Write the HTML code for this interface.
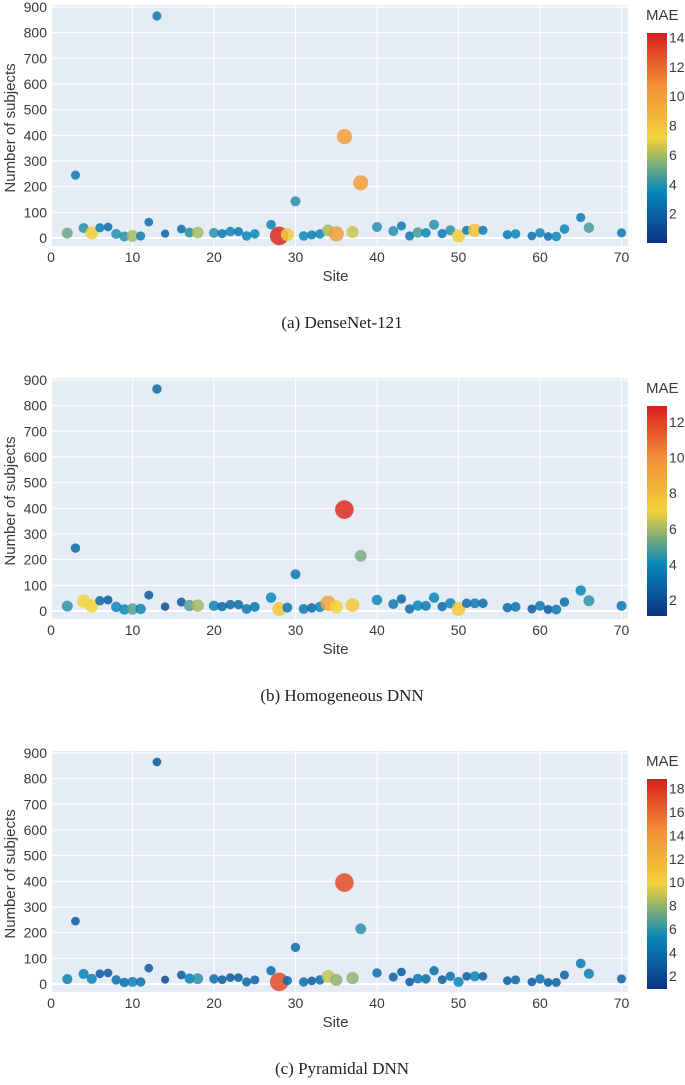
<!DOCTYPE html>
<html><head><meta charset="utf-8"><style>
body{margin:0;background:#fff;width:685px;height:1085px;overflow:hidden}
svg{display:block}
.t{font-family:"Liberation Sans",sans-serif;font-size:14px;fill:#3a3a3a}
.cap{font-family:"Liberation Serif",serif;font-size:17px;fill:#222}
</style></head><body>
<svg id="s" width="685" height="1085">
<defs><linearGradient id="cg" x1="0" y1="1" x2="0" y2="0">
<stop offset="0" stop-color="#0c3383"/><stop offset="0.25" stop-color="#0a88ba"/><stop offset="0.5" stop-color="#f2d338"/><stop offset="0.75" stop-color="#f28f38"/><stop offset="1" stop-color="#d91e1e"/></linearGradient></defs>
</svg>
<script>
const sites=[2,3,4,5,6,7,8,9,10,11,12,13,14,16,17,18,20,21,22,23,24,25,27,28,29,30,31,32,33,34,35,36,37,38,40,42,43,44,45,46,47,48,49,50,51,52,53,56,57,59,60,61,62,63,65,66,70];
const subjects=[19,245,39,20,40,43,16,6,8,8,62,865,17,35,21,21,20,17,25,25,8,16,52,8,13,143,8,12,16,30,16,395,23,215,43,27,47,8,21,20,52,17,30,8,30,30,30,13,16,8,20,6,6,35,80,40,20];
const maeA=[5,3,4,7.5,3,2.5,4,4,6,3,2.5,3,2,2.5,4,6,4,3,3.5,3,3.5,3.5,3.5,14,7.5,4,3.5,3,3.5,6,10,10,6.5,10,4,4,3,3,4.5,3.5,4,3,4,7.5,3,8,3,3,3.5,2.5,3.5,2.5,3.5,3.5,3,4.5,3];
const maeB=[4.5,3,7,7,3,2.5,4,4,5,4,2.5,3,2,2.5,5,6,4,3,3,3,3.5,3.5,4,7.5,3.5,3.5,3.5,3,4,9,7,12.5,7.5,5.5,4,3.5,3,3,4,3.5,4,3,4,7.5,3,3.5,3,3,3.5,2.5,3.5,2.5,3.5,3,4,4.5,3.5];
const maeC=[5,3,5,5,3,3,4,4,5,4,3,3,2,3,5,6,4,3,3,3,3.5,3.5,4,17,4,4,4,3,4,9,8,17,8,6,4,3.5,3,3,4.5,4,4,3,4,5,3,5,3,3,3.5,3,4,3,3.5,3.5,4.5,5,3.5];
const panels=[{mae:maeA,top:0,cmin:0,cmax:14.3,ticks:[2,4,6,8,10,12,14],cap:"(a) DenseNet-121",n:"a"},
{mae:maeB,top:373,cmin:1.1,cmax:12.9,ticks:[2,4,6,8,10,12],cap:"(b) Homogeneous DNN",n:"b"},
{mae:maeC,top:746,cmin:0.9,cmax:18.8,ticks:[2,4,6,8,10,12,14,16,18],cap:"(c) Pyramidal DNN",n:"c"}];
const stops=[[0,[12,51,131]],[0.25,[10,136,186]],[0.5,[242,211,56]],[0.75,[242,143,56]],[1,[217,30,30]]];
function col(t){t=Math.max(0,Math.min(1,t));for(let i=1;i<stops.length;i++){if(t<=stops[i][0]){const a=stops[i-1],b=stops[i],f=(t-a[0])/(b[0]-a[0]);return 'rgb('+a[1].map((v,k)=>Math.round(v+(b[1][k]-v)*f)).join(',')+')';}}}
const S=document.getElementById('s'),NS='http://www.w3.org/2000/svg';
function mk(tag,at,p,txt){const e=document.createElementNS(NS,tag);for(const k in at)e.setAttribute(k,at[k]);if(txt!==undefined)e.textContent=txt;(p||S).appendChild(e);return e;}
const X0=51,X1=628;
const xs=v=>X0+v*8.15;
panels.forEach(P=>{
 const g=mk('g',{});
 
 
 const top=P.top;const ys=v=>top+238-v*0.2567;
 const bg=mk('rect',{x:X0,y:top+5,width:X1-X0,height:241,fill:'#e5ecf6'},g);
 
 for(let v=0;v<=900;v+=100){mk('line',{x1:X0,x2:X1,y1:ys(v),y2:ys(v),stroke:'#fff','stroke-width':v==0?2:1},g);
  const t=mk('text',{x:X0-4,y:ys(v)+5,'text-anchor':'end',class:'t'},g,v);}
 for(let v=0;v<=70;v+=10){mk('line',{x1:xs(v),x2:xs(v),y1:top+5,y2:top+246,stroke:'#fff','stroke-width':v==0?2:1},g);
  const t=mk('text',{x:xs(v),y:top+262,'text-anchor':'middle',class:'t'},g,v);}
 let t=mk('text',{x:(X0+X1)/2-4,y:top+281,'text-anchor':'middle',class:'t',style:'font-size:15px'},g,'Site');
 t=mk('text',{x:15,y:top+128,'text-anchor':'middle',class:'t',style:'font-size:15px',transform:'rotate(-90 15 '+(top+128)+')'},g,'Number of subjects');
 const mx=Math.max(...P.mae);
 sites.forEach((s,i)=>{const m=P.mae[i];
  const c=mk('circle',{cx:xs(s),cy:ys(subjects[i]),r:3.3+6*m/mx,fill:col((m-P.cmin)/(P.cmax-P.cmin)),'fill-opacity':0.85},g);
  });
 const cb=mk('rect',{x:647,y:top+33,width:20,height:210,fill:'url(#cg)'},g);
 
 const cy=v=>top+243-(v-P.cmin)*210/(P.cmax-P.cmin);
 P.ticks.forEach(v=>{const l=mk('text',{x:669,y:cy(v)+5,class:'t'},g,v);});
 t=mk('text',{x:646,y:top+20,class:'t',style:'font-size:15px'},g,'MAE');
 t=mk('text',{x:342,y:top+328,'text-anchor':'middle',class:'cap'},g,P.cap);
});
</script>
</body></html>
